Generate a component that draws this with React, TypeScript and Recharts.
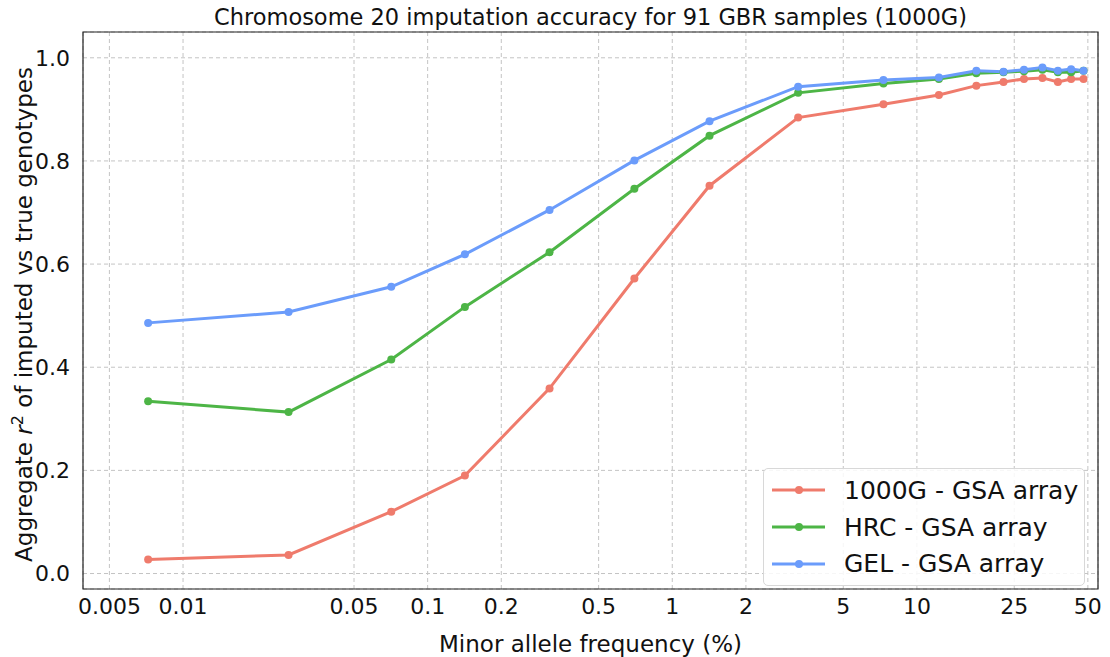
import { LineChart, Line, XAxis, YAxis, CartesianGrid, Legend, ReferenceArea } from 'recharts';

// minor allele frequency bin centres (%)
const maf = [0.0072, 0.027, 0.071, 0.142, 0.315, 0.7, 1.42, 3.27, 7.3, 12.3, 17.5, 22.6, 27.4, 32.6, 37.7, 42.7, 48.0];

const g1000Gsa = [0.027, 0.036, 0.12, 0.19, 0.359, 0.572, 0.752, 0.884, 0.91, 0.928, 0.946, 0.953, 0.959, 0.961, 0.953, 0.959, 0.959];
const hrcGsa = [0.334, 0.313, 0.415, 0.517, 0.623, 0.746, 0.849, 0.932, 0.95, 0.959, 0.97, 0.972, 0.974, 0.977, 0.972, 0.972, 0.975];
const gelGsa = [0.486, 0.507, 0.556, 0.619, 0.705, 0.801, 0.877, 0.944, 0.957, 0.962, 0.975, 0.973, 0.977, 0.981, 0.975, 0.978, 0.975];

const xTicks = [0.005, 0.01, 0.05, 0.1, 0.2, 0.5, 1, 2, 5, 10, 25, 50];
const yTicks = [0, 0.2, 0.4, 0.6, 0.8, 1.0];

const X_DOMAIN: [number, number] = [0.0039, 55];
const Y_DOMAIN: [number, number] = [-0.03, 1.05];

const series = [
  { key: 'g1000', name: '1000G - GSA array', color: '#ef7b6c' },
  { key: 'hrc', name: 'HRC - GSA array', color: '#4db546' },
  { key: 'gel', name: 'GEL - GSA array', color: '#6b9cfb' },
];

const chartData = maf.map((m, i) => ({
  maf: m,
  g1000: g1000Gsa[i],
  hrc: hrcGsa[i],
  gel: gelGsa[i],
}));

function YLabel(props: any) {
  const vb = props.viewBox || { y: 32, height: 557 };
  const cx = 32;
  const cy = vb.y + vb.height / 2 + 4;
  return (
    <text
      x={cx}
      y={cy}
      transform={`rotate(-90 ${cx} ${cy})`}
      textAnchor="middle"
      fontSize={23}
      fill="#111"
    >
      Aggregate <tspan fontStyle="italic">r</tspan>
      <tspan fontSize={16} dy={-9}>2</tspan>
      <tspan dy={9}> of imputed vs true genotypes</tspan>
    </text>
  );
}

function LegendBox() {
  return (
    <div
      style={{
        width: 322,
        height: 118,
        border: '1px solid #d8d8d8',
        borderRadius: 5,
        background: 'rgba(255,255,255,0.85)',
        boxSizing: 'border-box',
        paddingTop: 3,
      }}
    >
      {series.map((s) => (
        <div key={s.key} style={{ display: 'flex', alignItems: 'center', height: 36.7 }}>
          <svg width={80} height={20} style={{ flex: 'none' }}>
            <line x1={8} x2={61} y1={10} y2={10} stroke={s.color} strokeWidth={3} />
            <circle cx={35} cy={10} r={4} fill={s.color} />
          </svg>
          <span style={{ fontSize: 25, color: '#111', whiteSpace: 'nowrap' }}>{s.name}</span>
        </div>
      ))}
    </div>
  );
}

export default function App() {
  return (
    <div style={{ position: 'absolute', left: 0, top: 0, width: 1110, height: 657, background: '#fff', fontFamily: '"DejaVu Sans", sans-serif' }}>
      <div
        style={{
          position: 'absolute',
          left: 83,
          width: 1015,
          top: 4,
          textAlign: 'center',
          fontSize: 22.5,
          lineHeight: '26px',
          color: '#111',
        }}
      >
        Chromosome 20 imputation accuracy for 91 GBR samples (1000G)
      </div>
      <LineChart
        width={1110}
        height={657}
        data={chartData}
        margin={{ top: 32, right: 12, bottom: 38, left: 23 }}
      >
        <CartesianGrid stroke="#c4c4c4" strokeDasharray="4 3" strokeWidth={1} />
        <XAxis
          dataKey="maf"
          type="number"
          scale="log"
          domain={X_DOMAIN}
          allowDataOverflow
          ticks={xTicks}
          interval={0}
          tickFormatter={(v: number) => String(v)}
          tick={{ fontSize: 22, fill: '#111' }}
          tickLine={false}
          axisLine={false}
          tickMargin={3}
          height={30}
        />
        <YAxis
          type="number"
          domain={Y_DOMAIN}
          allowDataOverflow
          ticks={yTicks}
          interval={0}
          tickFormatter={(v: number) => v.toFixed(1)}
          tick={{ fontSize: 22, fill: '#111' }}
          tickLine={false}
          axisLine={false}
          tickMargin={7}
          width={60}
          label={<YLabel />}
        />
        <ReferenceArea
          x1={X_DOMAIN[0]}
          x2={X_DOMAIN[1]}
          y1={Y_DOMAIN[0]}
          y2={Y_DOMAIN[1]}
          fill="none"
          fillOpacity={0}
          stroke="#222"
          strokeWidth={1.2}
          ifOverflow="visible"
        />
        {series.map((s) => (
          <Line
            key={s.key}
            type="linear"
            dataKey={s.key}
            name={s.name}
            stroke={s.color}
            strokeWidth={3}
            dot={{ r: 4, fill: s.color, stroke: s.color, strokeWidth: 0 }}
            activeDot={false}
            isAnimationActive={false}
          />
        ))}
        <Legend
          layout="vertical"
          align="center"
          verticalAlign="middle"
          wrapperStyle={{ left: 763, top: 468, width: 322, height: 118 }}
          content={<LegendBox />}
        />
      </LineChart>
      <div
        style={{
          position: 'absolute',
          left: 83,
          width: 1015,
          top: 631,
          textAlign: 'center',
          fontSize: 23,
          lineHeight: '27px',
          color: '#111',
        }}
      >
        Minor allele frequency (%)
      </div>
    </div>
  );
}
